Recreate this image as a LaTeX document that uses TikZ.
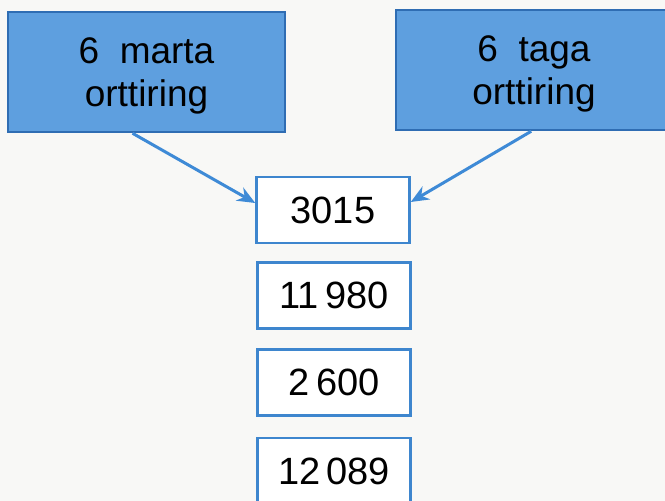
\documentclass[tikz,border=0pt]{standalone}
\usepackage{fontspec}
\setmainfont{Liberation Sans}
\usetikzlibrary{calc,arrows.meta}
\definecolor{boxfill}{HTML}{5E9FDF}
\definecolor{boxedge}{HTML}{2F6DB3}
\definecolor{numedge}{HTML}{3E86CE}
\definecolor{arrowc}{HTML}{3E8AD6}
\definecolor{paper}{HTML}{F8F8F6}
\tikzset{
  bluebox/.style={draw=boxedge, fill=boxfill, line width=2.5pt, minimum width=277pt, minimum height=120pt, inner sep=0pt},
  boxtext/.style={inner sep=0pt, align=center, font=\fontsize{37}{43}\selectfont},
  numbox/.style={draw=numedge, fill=white, line width=2.5pt, minimum width=153pt, minimum height=66pt, inner sep=0pt, font=\fontsize{38}{42}\selectfont},
  conn/.style={draw=arrowc, line width=3pt, -{Stealth[length=18pt,width=15pt]}}
}
\begin{document}
\begin{tikzpicture}[x=1pt,y=-1pt]
\useasboundingbox (0,0) rectangle (665,501);
\clip (0,0) rectangle (665,501);
\fill[paper] (0,0) rectangle (665,501);
\node[bluebox] (lbox) at (146.5,72) {};
\node[boxtext] (ltext) at ([yshift=-4pt]lbox.center) {6\ \ marta\\orttiring};
\node[bluebox, minimum width=276pt] (rbox) at (534,70) {};
\node[boxtext] (rtext) at ([xshift=-0pt,yshift=-4pt]rbox.center) {6\ \ taga\\orttiring};
\node[numbox] (n1) at (333,210) {3015};
\node[numbox] (n2) at (334,295.5) {11\,980};
\node[numbox] (n3) at (334,382.5) {2\,600};
\node[numbox] (n4) at (334,471) {12\,089};
\draw[conn] ($(lbox.south west)!0.45!(lbox.south east)$) -- ([yshift=7pt]n1.west);
\draw[conn] ($(rbox.south west)!0.49!(rbox.south east)$) -- ([yshift=8pt]n1.east);
\end{tikzpicture}
\end{document}
